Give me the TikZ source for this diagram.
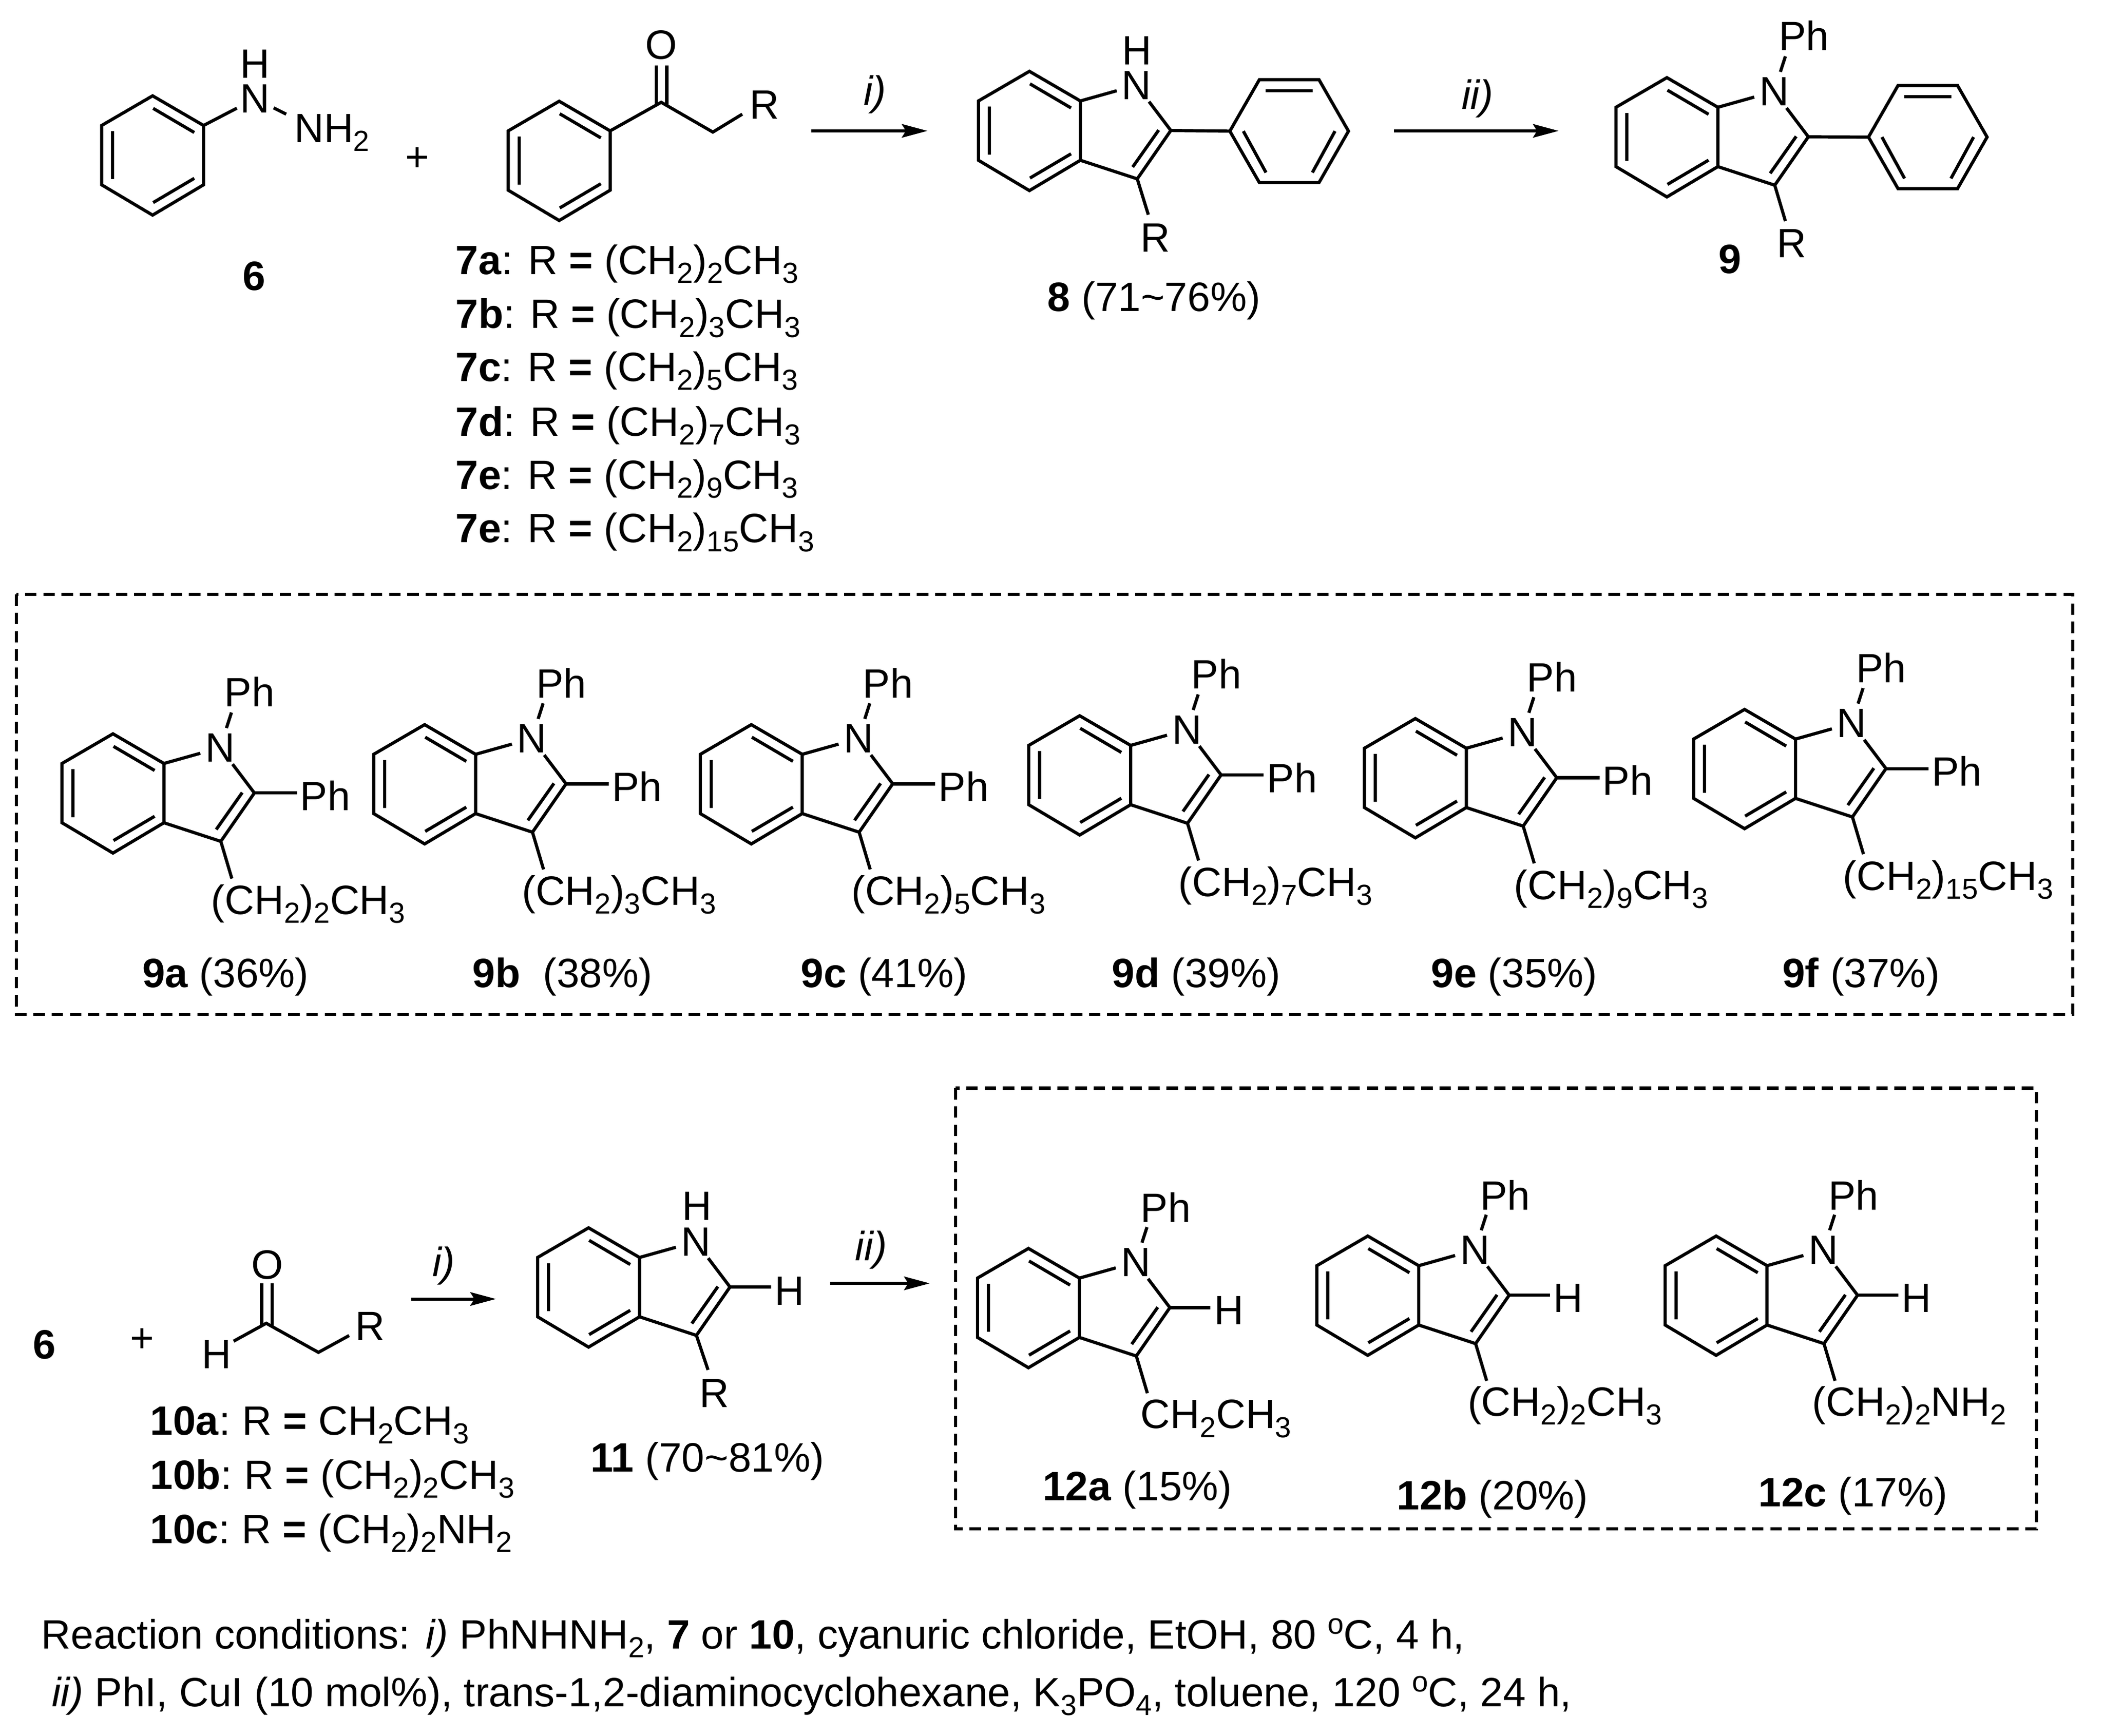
\documentclass[tikz,border=0pt]{standalone}
\usepackage{fontspec}
\setmainfont{Liberation Sans}
\usetikzlibrary{arrows.meta}

\newcommand{\sbs}[1]{\raisebox{-6.5pt}{\fontsize{21.5}{21.5}\selectfont #1}}
\newcommand{\sps}[1]{\raisebox{11pt}{\fontsize{21.5}{21.5}\selectfont #1}}

% six ring, top corner at #2,#3
\newcommand{\benzring}[3]{
	\begin{scope}[shift={(#2,#3)}]
		\coordinate (#1-a) at (0,0);
		\coordinate (#1-b) at (37.8,22);
		\coordinate (#1-c) at (37.8,66);
		\coordinate (#1-d) at (0,88.5);
		\coordinate (#1-e) at (-37.8,66);
		\coordinate (#1-f) at (-37.8,22);
		\draw[bond] (#1-a) -- (#1-b) -- (#1-c) -- (#1-d) -- (#1-e) -- (#1-f) -- cycle;
		\draw[bond] (0.4,9.3) -- (30.9,27.2) (-29.7,26.2) -- (-29.7,61.8) (0.4,79.2) -- (30.9,61.2);
	\end{scope}
}

% indole with the five ring closed, NH or NR left to the caller
\newcommand{\indole}[3]{
	\benzring{#1}{#2}{#3}
	\begin{scope}[shift={(#2,#3)}]
		\node[atom] (#1-N) at (79.5,10.3) {N};
		\coordinate (#1-two) at (104.9,43.9);
		\coordinate (#1-three) at (80,79.8);
		\coordinate (#1-top) at (87.9,-15.8);
		\coordinate (#1-side) at (136.5,43.9);
		\coordinate (#1-low) at (88.2,107.4);
		\draw[bond] (#1-b) -- (#1-N) -- (#1-two) -- (#1-three) -- (#1-c);
		\draw[bond] (95.9,43.6) -- (76.6,71);
	\end{scope}
}

% phenyl on the right of an indole
\newcommand{\phring}[3]{
	\begin{scope}[shift={(#2,#3)}]
		\coordinate (#1-l) at (-44,0);
		\draw[bond] (#1-l) -- (-22.1,-38.2) -- (22.1,-38.2) -- (44,0) -- (22.1,38.2) -- (-22.1,38.2) -- cycle;
		\draw[bond] (-17.5,-30) -- (17.5,-30) (-34,0) -- (-17.2,30.7) (34,0) -- (17.2,30.7);
	\end{scope}
}

\begin{document}
\begin{tikzpicture}[x=1pt,y=-1pt,>={Stealth[length=19pt,width=10pt,inset=3pt]},
	every node/.style={inner sep=0pt,font=\fontsize{30.4}{36}\selectfont},
	bond/.style={line width=2.35pt},
	atom/.style={circle},
	txt/.style={anchor=base west},
	rarrow/.style={->,line width=2.2pt},
	cond/.style={font=\fontsize{30.4}{36}\selectfont\itshape},
	frame/.style={line width=2.3pt,dash pattern=on 8.5pt off 5pt}]

	\useasboundingbox (0,0) rectangle (1560,1287.6);

	% hydrazine 6
	\benzring{hyd}{113.2}{71.1}
	\node[atom] (hydN) at (189.3,73.2) {N};
	\node[atom] (hydH) at (189.3,47.4) {H};
	\coordinate (hydC) at (212.3,84.7);
	\node[txt] (hydNH) at (218.1,105.7) {NH\sbs{2}};
	\draw[bond] (hyd-b) -- (hydN) -- (hydC);
	\node (plusA) at (309.5,118) {+};
	\node (six) at (188.5,205) {\textbf{6}};

	% ketone 7
	\benzring{ket}{414.8}{75.1}
	\coordinate (ketC) at (490.5,75.9);
	\coordinate (ketD) at (528.8,98);
	\node[atom] (ketR) at (567,77.7) {R};
	\node (ketO) at (490.5,33.3) {O};
	\draw[bond] (ket-b) -- (ketC) -- (ketD) -- (550.6,84.7);
	\draw[bond] (486.8,48.5) -- (486.8,78) (494.6,48.5) -- (494.6,78);

	\foreach \nm/\tail/\ly/\cnt in {7a/a/203.7/2,7b/b/243.6/3,7c/c/283/5,7d/d/323.5/7,7e/e/362.9/9,7f/e/402.6/15}
		\node[txt] (\nm) at (337.8,\ly) {\textbf{7\tail}: R \textbf{=} (CH\sbs{2})\sbs{\cnt}CH\sbs{3}};

	% indole 8
	\coordinate (arA) at (602,97.1);
	\coordinate (arB) at (688,97.1);
	\draw[rarrow] (arA) -- (arB);
	\node[cond] (arAB) at (649,70) {i)};
	\indole{eight}{763.6}{52.9}
	\node[atom] (eightH) at (843.2,37.6) {H};
	\phring{eightPh}{956.3}{97.3}
	\draw[bond] (eight-two) -- (eightPh-l);
	\node (eightR) at (857,176.3) {R};
	\draw[bond] (eight-three) -- (851.8,159.3);
	\node (eightLab) at (856,223) {\textbf{8} (71\textasciitilde76\%)};

	% indole 9
	\coordinate (arC) at (1034,97.1);
	\coordinate (arD) at (1156.2,97.1);
	\draw[rarrow] (arC) -- (arD);
	\node[cond] (arCD) at (1096,73) {ii)};
	\indole{nine}{1236.5}{57.6}
	\node (ninePh) at (1338,26.3) {Ph};
	\draw[bond] (nine-N) -- (nine-top);
	\phring{ninePhr}{1430}{101.7}
	\draw[bond] (nine-two) -- (ninePhr-l);
	\node (nineR) at (1329.2,180.5) {R};
	\draw[bond] (nine-three) -- (1324.4,164);
	\node (nineLab) at (1283.2,192.4) {\textbf{9}};

	% first box
	\draw[frame] (12,441.1) rectangle (1537.6,752.3);

	\foreach \nm/\tx/\ty/\cnt/\cx in {9a/83.8/544.4/2/156.5,9b/315/537.6/3/387,9c/557.3/537.6/5/631.4,9d/800.9/531/7/874,9e/1049.9/533.1/9/1123,9f/1294.1/526.3/15/1367}{
		\indole{\nm}{\tx}{\ty}
		\begin{scope}[shift={(\tx,\ty)}]
			\node (\nm-topPh) at (101.3,-31) {Ph};
			\node (\nm-sidePh) at (157.5,45.8) {Ph};
			\node[txt] (\nm-chain) at (\cx-\tx,134) {(CH\sbs{2})\sbs{\cnt}CH\sbs{3}};
		\end{scope}
		\draw[bond] (\nm-N) -- (\nm-top);
		\draw[bond] (\nm-two) -- (\nm-side);
		\draw[bond] (\nm-three) -- (\nm-low);
	}

	\foreach \nm/\lx/\lab in {a/105.3/{\textbf{9a} (36\%)},b/350.3/{\textbf{9b}\ \ (38\%)},c/594/{\textbf{9c} (41\%)},d/824.7/{\textbf{9d} (39\%)},e/1061.4/{\textbf{9e} (35\%)},f/1322/{\textbf{9f} (37\%)}}
		\node[txt] (lab\nm) at (\lx,732.7) {\lab};

	% aldehyde 10
	\node (sixB) at (32.9,997.7) {\textbf{6}};
	\node (plusB) at (105.5,994.4) {+};
	\node (aldO) at (198.5,938.3) {O};
	\node (aldH) at (160.7,1004.7) {H};
	\node (aldR) at (274.4,983.9) {R};
	\coordinate (aldC) at (197.5,981.7);
	\coordinate (aldD) at (236.2,1003.3);
	\draw[bond] (173.3,995) -- (aldC) -- (aldD) -- (259,990.8);
	\draw[bond] (194.1,952.1) -- (194.1,984) (201.8,952.1) -- (201.8,984.5);

	\node[txt] (tenA) at (111.3,1064.7) {\textbf{10a}:\hspace{-2.5pt} R \textbf{=} CH\sbs{2}CH\sbs{3}};
	\node[txt] (tenB) at (111.3,1104.8) {\textbf{10b}:\hspace{-2.5pt} R \textbf{=} (CH\sbs{2})\sbs{2}CH\sbs{3}};
	\node[txt] (tenC) at (111.3,1144.9) {\textbf{10c}:\hspace{-2.5pt} R \textbf{=} (CH\sbs{2})\sbs{2}NH\sbs{2}};

	% indole 11
	\coordinate (arE) at (305,963.7);
	\coordinate (arF) at (367.9,963.7);
	\draw[rarrow] (arE) -- (arF);
	\node[cond] (arEF) at (329.1,939) {i)};
	\indole{elev}{436.6}{910.9}
	\node[atom] (elevH) at (516.9,894.8) {H};
	\node (elevS) at (585.7,957.6) {H};
	\draw[bond] (elev-two) -- (572,954.8);
	\node (elevR) at (530,1033.7) {R};
	\draw[bond] (elev-three) -- (525.2,1016.3);
	\node[txt] (elevLab) at (438,1091.8) {\textbf{11} (70\textasciitilde81\%)};

	\coordinate (arG) at (615.7,952.1);
	\coordinate (arH) at (689.7,952.1);
	\draw[rarrow] (arG) -- (arH);
	\node[cond] (arGH) at (646.2,927.2) {ii)};

	% second box
	\draw[frame] (708.7,807.3) rectangle (1510.5,1134.3);

	\foreach \nm/\tx/\ty/\cx/\chain in {twa/762.9/926.2/846/{CH\sbs{2}CH\sbs{3}},twb/1014.6/917/1088.6/{(CH\sbs{2})\sbs{2}CH\sbs{3}},twc/1273/917/1344.2/{(CH\sbs{2})\sbs{2}NH\sbs{2}}}{
		\indole{\nm}{\tx}{\ty}
		\begin{scope}[shift={(\tx,\ty)}]
			\node (\nm-topPh) at (101.8,-30.5) {Ph};
			\node (\nm-sideH) at (148.8,46) {H};
			\coordinate (\nm-end) at (135.1,43.9);
			\node[txt] (\nm-chain) at (\cx-\tx,133.6) {\chain};
		\end{scope}
		\draw[bond] (\nm-N) -- (\nm-top);
		\draw[bond] (\nm-two) -- (\nm-end);
		\draw[bond] (\nm-three) -- (\nm-low);
	}

	\node[txt] (twaLab) at (773.3,1113.2) {\textbf{12a} (15\%)};
	\node[txt] (twbLab) at (1036,1120) {\textbf{12b} (20\%)};
	\node[txt] (twcLab) at (1304.2,1117.8) {\textbf{12c} (17\%)};

	% conditions
	\node[txt] (condA) at (30.5,1223.2) {Reaction conditions: \textit{i)} PhNHNH\sbs{2}, \textbf{7} or \textbf{10}, cyanuric chloride, EtOH, 80 \sps{o}C, 4 h,};
	\node[txt] (condB) at (38.2,1266) {\textit{ii)} PhI, CuI (10 mol\%), trans-1,2-diaminocyclohexane, K\sbs{3}PO\sbs{4}, toluene, 120 \sps{o}C, 24 h,};
\end{tikzpicture}
\end{document}
